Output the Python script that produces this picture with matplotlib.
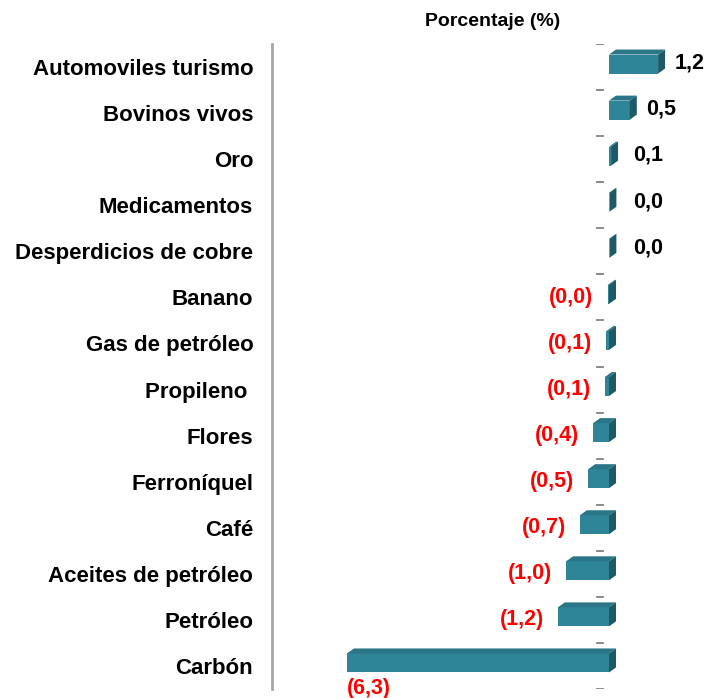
import matplotlib
matplotlib.use("Agg")
import matplotlib.pyplot as plt
from matplotlib.patches import Polygon

plt.rcParams['font.family'] = ['Liberation Sans', 'DejaVu Sans']

# datos (variacion %)
categorias = ['Automoviles turismo', 'Bovinos vivos', 'Oro', 'Medicamentos',
              'Desperdicios de cobre', 'Banano', 'Gas de petróleo', 'Propileno ',
              'Flores', 'Ferroníquel', 'Café', 'Aceites de petróleo', 'Petróleo',
              'Carbón']
valores = [1.18, 0.5, 0.05, 0.01, 0.01, -0.03, -0.06, -0.1, -0.38, -0.5,
           -0.7, -1.03, -1.23, -6.3]
etiquetas = ['1,2', '0,5', '0,1', '0,0', '0,0', '(0,0)', '(0,1)', '(0,1)',
             '(0,4)', '(0,5)', '(0,7)', '(1,0)', '(1,2)', '(6,3)']

c_frente = '#2F8598'
c_arriba = '#2A7586'
c_lado = '#1F5866'

fig = plt.figure(figsize=(7.07, 6.98), dpi=100)
ax = fig.add_axes([272/707, 1 - 689/698, 435/707, 645/698])

ppx = 41.6     # px por unidad en x
ppy = 46.07    # px por categoria
dx = 7 / ppx   # profundidad 3D
dy = 5 / ppy
alto = 19 / ppy
desp = 3 / ppy

for i, v in enumerate(valores):
    yc = i - desp
    ax.barh(yc, v, height=alto, color=c_frente, edgecolor='none', zorder=3)
    x0, x1 = min(0, v), max(0, v)
    yt, yb = yc - alto / 2, yc + alto / 2
    ax.add_patch(Polygon([(x0, yt), (x1, yt), (x1 + dx, yt - dy), (x0 + dx, yt - dy)],
                         closed=True, color=c_arriba, lw=0, zorder=3))
    ax.add_patch(Polygon([(x1, yt), (x1, yb), (x1 + dx, yb - dy), (x1 + dx, yt - dy)],
                         closed=True, color=c_lado, lw=0, zorder=3))

    # etiquetas de valor
    if v >= 0:
        ax.text(max(v + 0.4, 0.58), i - 0.08, etiquetas[i], ha='left', va='center',
                fontsize=15.5, fontweight='bold', color='black')
    elif v < -5:
        ax.text(v, i + 0.48, etiquetas[i], ha='left', va='center',
                fontsize=15.5, fontweight='bold', color='red')
    else:
        ax.text(v - 0.34, i, etiquetas[i], ha='right', va='center',
                fontsize=15.5, fontweight='bold', color='red')

# marcas del eje
for k in range(len(categorias) + 1):
    ax.plot([-0.29, -0.14], [k - 0.5, k - 0.5], color='#808080', lw=1.3, zorder=2)

ax.set_xlim(-8.1, (707 - 609) / ppx)
ax.set_ylim(len(categorias) - 0.5, -0.5)
ax.set_yticks(range(len(categorias)))
ax.set_yticklabels(categorias, fontsize=16, fontweight='bold')
ax.tick_params(axis='y', length=0, pad=13.5)
ax.set_xticks([])
for s in ['top', 'right', 'bottom']:
    ax.spines[s].set_visible(False)
ax.spines['left'].set_color('#a6a6a6')
ax.spines['left'].set_linewidth(2)

fig.text(493 / 707, 1 - 21 / 698, 'Porcentaje (%)', ha='center', va='center',
         fontsize=14, fontweight='bold')

plt.savefig('out.png', dpi=100)
